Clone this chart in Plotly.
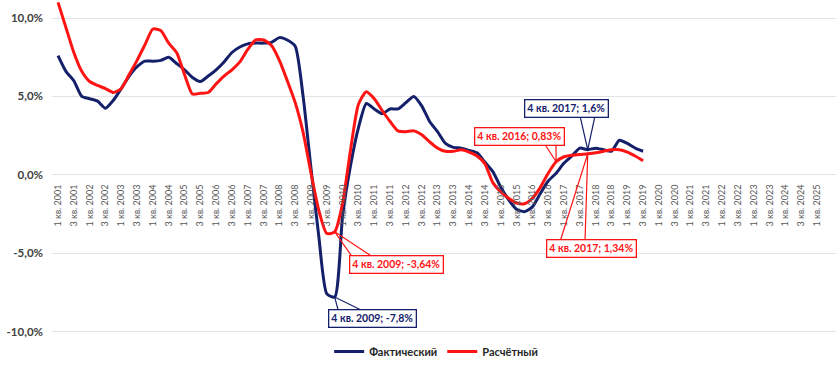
import plotly.graph_objects as go

years = list(range(2001, 2026))
quarters = [f"{q} кв. {y}" for y in years for q in (1, 2, 3, 4)][:99]  # up to 3 кв. 2025
tick_labels = quarters[::2]

fact = [7.6, 6.6, 6.0, 5.0, 4.85, 4.7, 4.25, 4.75, 5.5, 6.3,
        6.9, 7.25, 7.25, 7.3, 7.5, 7.1, 6.7, 6.2, 5.95, 6.3,
        6.7, 7.2, 7.8, 8.15, 8.35, 8.4, 8.4, 8.45, 8.75, 8.6,
        8.2, 5.0, 0.4, -4.0, -7.6, -7.8, -2.6, 0.6, 3.0, 4.55,
        4.2, 3.9, 4.2, 4.2, 4.6, 5.0, 4.4, 3.4, 2.75, 2.0,
        1.75, 1.7, 1.55, 1.4, 0.8, 0.2, -0.8, -1.6, -2.2, -2.35,
        -2.05, -1.2, -0.4, 0.1, 0.75, 1.2, 1.7, 1.6, 1.7, 1.6,
        1.5, 2.2, 2.0, 1.7, 1.5]

calc = [11.0, 9.4, 7.8, 6.6, 5.95, 5.7, 5.5, 5.25, 5.5, 6.4,
        7.3, 8.3, 9.3, 9.2, 8.4, 7.8, 6.4, 5.15, 5.2, 5.25,
        5.8, 6.3, 6.7, 7.2, 8.0, 8.6, 8.6, 8.25, 7.3, 6.0,
        4.6, 2.7, 0.1, -2.3, -3.75, -3.64, -1.8, 1.6, 4.5, 5.3,
        4.85, 4.1, 3.4, 2.8, 2.75, 2.8, 2.55, 2.1, 1.7, 1.5,
        1.5, 1.6, 1.45, 1.2, 0.7, -0.5, -1.1, -1.5, -1.8, -1.85,
        -1.5, -0.8, 0.1, 0.83, 1.15, 1.25, 1.3, 1.34, 1.4, 1.5,
        1.6, 1.6, 1.45, 1.2, 0.9]

y_ticks = [10, 5, 0, -5, -10]
y_tick_labels = ["10,0%", "5,0%", "0,0%", "-5,0%", "-10,0%"]

BLUE = "#14206A"
RED = "#FF1414"

W, H = 836, 366
L, R, T, B = 52, 0, 0, 20
XR = [-0.76, 98.4]
YR = [-10.54, 11.15]


def X(px):
    return XR[0] + (px - L) / (W - L - R) * (XR[1] - XR[0])


def Y(py):
    return YR[1] - (py - T) / (H - T - B) * (YR[1] - YR[0])


fig = go.Figure()
fig.add_trace(go.Scatter(x=list(range(len(fact))), y=fact, mode="lines", name="<b>Фактический</b>",
                         line=dict(color=BLUE, width=3, shape="spline", smoothing=0.6)))
fig.add_trace(go.Scatter(x=list(range(len(calc))), y=calc, mode="lines", name="<b>Расчётный</b>",
                         line=dict(color=RED, width=3, shape="spline", smoothing=0.6)))

# callouts: (text, color, series, index, box center px, wedge base px pts)
callouts = [
    ("4 кв. 2009; -3,64%", RED, calc, 35, (396, 269.5), [(352, 261), (372, 261)]),
    ("4 кв. 2009; -7,8%", BLUE, fact, 35, (372.5, 324), [(338, 315), (360, 315)]),
    ("4 кв. 2016; 0,83%", RED, calc, 63, (519, 139), [(545, 147), (556, 147)]),
    ("4 кв. 2017; 1,6%", BLUE, fact, 67, (566.5, 110), [(580, 118), (595, 118)]),
    ("4 кв. 2017; 1,34%", RED, calc, 67, (591.5, 252.5), [(560, 246), (585, 246)]),
]
for text, col, ser, idx, (cx, cy), base in callouts:
    px, py = idx, ser[idx]
    (b1x, b1y), (b2x, b2y) = base
    path = f"M {X(b1x)} {Y(b1y)} L {px} {py} L {X(b2x)} {Y(b2y)}"
    fig.add_shape(type="path", path=path, xref="x", yref="y",
                  line=dict(color=col, width=1.2), layer="above")
    fig.add_annotation(x=X(cx), y=Y(cy), xref="x", yref="y", text=f"<b>{text}</b>",
                       showarrow=False, font=dict(family="Lato", size=10.5, color=col),
                       bgcolor="white", bordercolor=col, borderwidth=1.3, borderpad=2,
                       xanchor="center", yanchor="middle")

zero_pos = (0 - YR[0]) / (YR[1] - YR[0])

fig.update_layout(
    width=W, height=H,
    margin=dict(l=L, r=R, t=T, b=B),
    plot_bgcolor="white", paper_bgcolor="white",
    showlegend=True,
    legend=dict(orientation="h", x=0.49, xanchor="center", y=-0.035, yanchor="middle",
                font=dict(family="Lato", size=11, color="#262626"), itemwidth=30,
                bgcolor="rgba(0,0,0,0)"),
    xaxis=dict(range=XR, tickmode="array", tickvals=list(range(0, len(quarters), 2)),
               ticktext=tick_labels, tickangle=-90, showgrid=False, zeroline=False,
               showline=False, anchor="free", position=zero_pos, ticks="",
               ticklabelstandoff=7,
               tickfont=dict(family="Lato", size=9, color="#555555")),
    yaxis=dict(range=YR, tickmode="array", tickvals=y_ticks, ticktext=y_tick_labels,
               showgrid=True, gridcolor="#E3E3E3", gridwidth=1, zeroline=False,
               showline=False, ticks="", ticklabelstandoff=8,
               tickfont=dict(family="Lato", size=11.5, color="#404040", weight="bold")),
)

fig.write_html("out.html")
